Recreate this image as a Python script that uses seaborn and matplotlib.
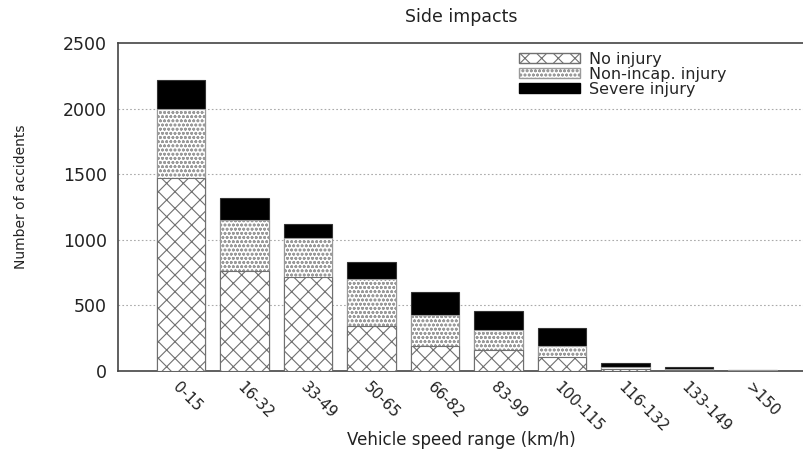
import numpy as np
import pandas as pd
import matplotlib
matplotlib.use("Agg")
import matplotlib.pyplot as plt
import seaborn as sns
from matplotlib.patches import Patch

# data
speed_ranges = ["0-15", "16-32", "33-49", "50-65", "66-82",
                "83-99", "100-115", "116-132", "133-149", ">150"]
no_injury = [1470, 760, 720, 340, 190, 160, 105, 15, 8, 2]
non_incap = [530, 390, 290, 360, 240, 150, 85, 15, 7, 2]
severe = [220, 165, 110, 130, 170, 145, 135, 30, 15, 3]

sns.set_style("white")
plt.rcParams['font.family'] = ['DejaVu Sans']
plt.rcParams['hatch.linewidth'] = 0.8

df = pd.DataFrame({"speed": speed_ranges,
                   "no": no_injury,
                   "non": non_incap,
                   "sev": severe})
df["lvl2"] = df["no"] + df["non"]
df["lvl3"] = df["lvl2"] + df["sev"]

fig = plt.figure(figsize=(8.04, 4.53), dpi=100)
ax = fig.add_axes([118 / 804, 1 - 371 / 453, (804 - 118) / 804, (371 - 43) / 453])

# stack by drawing cumulative totals back to front
sns.barplot(data=df, x="speed", y="lvl3", order=speed_ranges, ax=ax,
            color="black", saturation=1, width=0.76,
            edgecolor="#333333", linewidth=0.8, zorder=2)
sns.barplot(data=df, x="speed", y="lvl2", order=speed_ranges, ax=ax,
            color="white", saturation=1, width=0.76, hatch="oooo",
            edgecolor="#9a9a9a", linewidth=0.8, zorder=3)
sns.barplot(data=df, x="speed", y="no", order=speed_ranges, ax=ax,
            color="white", saturation=1, width=0.76, hatch="xx",
            edgecolor="#707070", linewidth=0.8, zorder=4)

ax.set_xlim(-0.99, 9.81)
ax.set_ylim(0, 2500)
ax.set_yticks([0, 500, 1000, 1500, 2000, 2500])
ax.tick_params(axis="y", direction="in", length=5, labelsize=12.5, colors="#222222",
               pad=8)
ax.tick_params(axis="x", direction="in", length=4, labelsize=11, colors="#222222",
               pad=6)
for lbl in ax.get_xticklabels():
    lbl.set_rotation(-45)
    lbl.set_ha("left")
    lbl.set_va("top")
    lbl.set_rotation_mode("anchor")

for y in [500, 1000, 1500, 2000]:
    ax.axhline(y, color="#aaaaaa", linestyle=(0, (1.5, 2)), linewidth=0.8, zorder=1)

for side in ["left", "bottom", "top"]:
    ax.spines[side].set_visible(True)
    ax.spines[side].set_color("#444444")
    ax.spines[side].set_linewidth(1.2)
ax.spines["right"].set_visible(False)

ax.set_xlabel("Vehicle speed range (km/h)", fontsize=12, color="#222222")
ax.xaxis.set_label_coords(0.5, (371 - 440) / 328)
ax.xaxis.label.set_va("center")
ax.set_ylabel("Number of accidents", fontsize=10, color="#222222")
ax.yaxis.set_label_coords((21 - 118) / 686, 0.53)
ax.yaxis.label.set_va("center")
ax.set_title("Side impacts", fontsize=12.5, color="#222222", pad=15)

handles = [Patch(facecolor="white", edgecolor="#707070", hatch="xx", label="No injury"),
           Patch(facecolor="white", edgecolor="#9a9a9a", hatch="oooo", label="Non-incap. injury"),
           Patch(facecolor="black", edgecolor="black", label="Severe injury")]
ax.legend(handles=handles, loc="upper left", bbox_to_anchor=(519 / 804, 1 - 52 / 453),
          bbox_transform=fig.transFigure, frameon=False, fontsize=11.5,
          handlelength=3.8, handleheight=0.6, handletextpad=0.6,
          labelspacing=0.0, borderpad=0, borderaxespad=0)

fig.savefig("out.png", dpi=100)
